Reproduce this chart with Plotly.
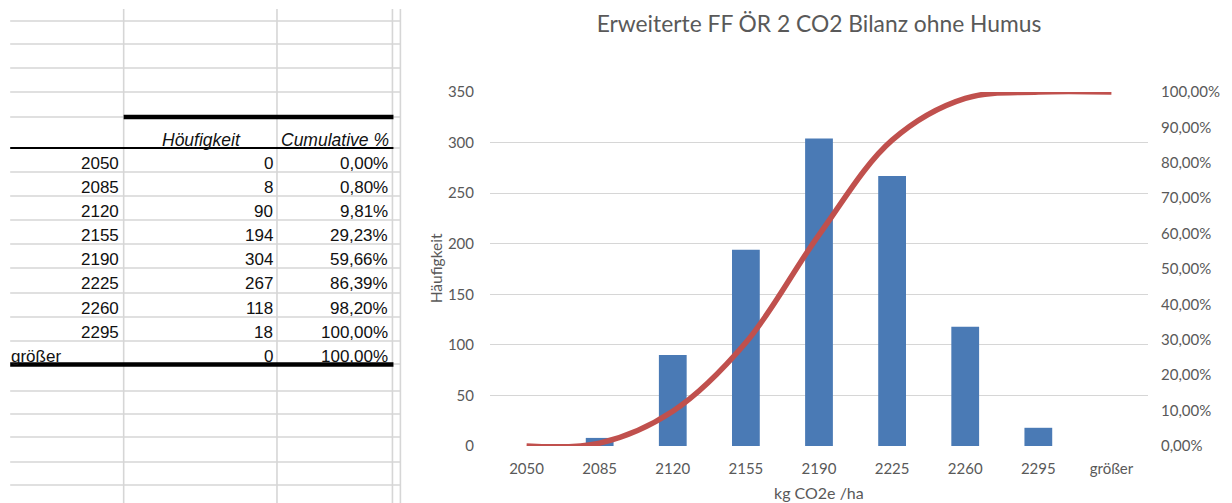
import plotly.graph_objects as go

# Histogram classes (upper bin limits, kg CO2e/ha) and frequencies
bins = ["2050", "2085", "2120", "2155", "2190", "2225", "2260", "2295", "größer"]
counts = [0, 8, 90, 194, 304, 267, 118, 18, 0]
cumulative_pct = [0.00, 0.80, 9.81, 29.23, 59.66, 86.39, 98.20, 100.00, 100.00]

W, H = 1232, 503
M_L, M_R, M_T, M_B = 490, 81, 92, 57
PLOT_W = W - M_L - M_R
PLOT_H = H - M_T - M_B


def fx(px):
    """page x pixel -> paper coordinate"""
    return (px - M_L) / PLOT_W


def fy(py):
    """page y pixel -> paper coordinate"""
    return (H - M_B - py) / PLOT_H


GRID = "#d6d6d6"
TXT = "#595959"
CHART_FONT = "Lato"
SHEET_FONT = "Liberation Sans"

fig = go.Figure()

fig.add_trace(go.Bar(
    x=bins, y=counts, width=0.38,
    marker=dict(color="#4a7ab5", line=dict(width=0)),
    name="Häufigkeit", showlegend=False,
))
fig.add_trace(go.Scatter(
    x=bins, y=cumulative_pct, yaxis="y2", mode="lines",
    line=dict(color="#c0504d", width=5.5, shape="spline", smoothing=1),
    name="Cumulative %", showlegend=False,
))

shapes = []
annotations = []

# ---- spreadsheet grid on the left ----
col_lines = [122, 276, 392, 400]
for cx in col_lines:
    shapes.append(dict(type="line", xref="paper", yref="paper",
                       x0=fx(cx), x1=fx(cx), y0=fy(9), y1=fy(H),
                       line=dict(color=GRID, width=1.6)))

gray_rows = [21, 44, 68, 92, 172, 196, 220, 244, 268, 293, 317, 341,
             391, 414, 437, 462, 485]
for ry in gray_rows:
    shapes.append(dict(type="line", xref="paper", yref="paper",
                       x0=fx(8), x1=fx(400), y0=fy(ry), y1=fy(ry),
                       line=dict(color=GRID, width=1.6)))
# gray segments beside the table borders
for x0, x1, ry in [(8, 122, 117), (392, 400, 117), (392, 400, 148), (392, 400, 364)]:
    shapes.append(dict(type="line", xref="paper", yref="paper",
                       x0=fx(x0), x1=fx(x1), y0=fy(ry), y1=fy(ry),
                       line=dict(color=GRID, width=1.6)))

# table borders
shapes.append(dict(type="line", xref="paper", yref="paper",
                   x0=fx(122), x1=fx(393), y0=fy(117), y1=fy(117),
                   line=dict(color="#000000", width=4.5)))
shapes.append(dict(type="line", xref="paper", yref="paper",
                   x0=fx(8), x1=fx(393), y0=fy(148), y1=fy(148),
                   line=dict(color="#000000", width=2)))
shapes.append(dict(type="line", xref="paper", yref="paper",
                   x0=fx(8), x1=fx(393), y0=fy(364.5), y1=fy(364.5),
                   line=dict(color="#000000", width=4.5)))

sheet_font = dict(family=SHEET_FONT, size=17, color="#111111")
hdr_font = dict(family=SHEET_FONT, size=17.5, color="#111111")

annotations.append(dict(text="<i>Höufigkeit</i>", xref="paper", yref="paper",
                        x=fx(200), y=fy(140), xanchor="center", yanchor="middle",
                        showarrow=False, font=hdr_font))
annotations.append(dict(text="<i>Cumulative %</i>", xref="paper", yref="paper",
                        x=fx(334), y=fy(140), xanchor="center", yanchor="middle",
                        showarrow=False, font=hdr_font))

row_tops = [148, 172, 196, 220, 244, 268, 293, 317, 341]
for top, b, c, p in zip(row_tops, bins, counts, cumulative_pct):
    yc = fy(top + 15)
    if b.isdigit():
        annotations.append(dict(text=b, xref="paper", yref="paper",
                                x=fx(119), y=yc, xanchor="right", yanchor="middle",
                                showarrow=False, font=sheet_font))
    else:
        annotations.append(dict(text=b, xref="paper", yref="paper",
                                x=fx(7), y=yc, xanchor="left", yanchor="middle",
                                showarrow=False, font=sheet_font))
    annotations.append(dict(text=str(c), xref="paper", yref="paper",
                            x=fx(274), y=yc, xanchor="right", yanchor="middle",
                            showarrow=False, font=sheet_font))
    annotations.append(dict(text=f"{p:.2f}".replace(".", ",") + "%",
                            xref="paper", yref="paper",
                            x=fx(390), y=yc, xanchor="right", yanchor="middle",
                            showarrow=False, font=sheet_font))

# ---- chart axis titles ----
annotations.append(dict(text="Häufigkeit", xref="paper", yref="paper",
                        x=fx(436), y=fy(268), xanchor="center", yanchor="middle",
                        textangle=-90, showarrow=False,
                        font=dict(family=CHART_FONT, size=15.5, color=TXT)))
annotations.append(dict(text="kg CO2e /ha", xref="paper", yref="paper",
                        x=fx(820), y=fy(492), xanchor="center", yanchor="middle",
                        showarrow=False,
                        font=dict(family=CHART_FONT, size=16, color=TXT)))

fig.update_layout(
    width=W, height=H, autosize=False,
    margin=dict(l=M_L, r=M_R, t=M_T, b=M_B, pad=0),
    paper_bgcolor="white", plot_bgcolor="white",
    separators=",.",
    title=dict(text="Erweiterte FF ÖR 2 CO2 Bilanz ohne Humus",
               xref="paper", x=0.5, xanchor="center",
               yref="container", y=1 - 24 / H, yanchor="middle",
               font=dict(family=CHART_FONT, size=22.8, color=TXT)),
    xaxis=dict(type="category", range=[-0.5, len(bins) - 0.5],
               showgrid=False, zeroline=False, showline=False, ticks="",
               tickfont=dict(family=CHART_FONT, size=15, color=TXT),
               ticklabelstandoff=12),
    yaxis=dict(range=[0, 350], dtick=50, showgrid=True, gridcolor=GRID,
               gridwidth=1, zeroline=False, showline=False, ticks="",
               tickformat="d",
               tickfont=dict(family=CHART_FONT, size=15, color=TXT),
               ticklabelstandoff=15),
    yaxis2=dict(range=[0, 100], dtick=10, overlaying="y", side="right",
                showgrid=False, zeroline=False, showline=False, ticks="",
                tickformat=".2f", ticksuffix="%",
                tickfont=dict(family=CHART_FONT, size=15, color=TXT),
                ticklabelstandoff=12),
    shapes=shapes,
    annotations=annotations,
    bargap=0.6,
)

fig.write_html("out.html")
